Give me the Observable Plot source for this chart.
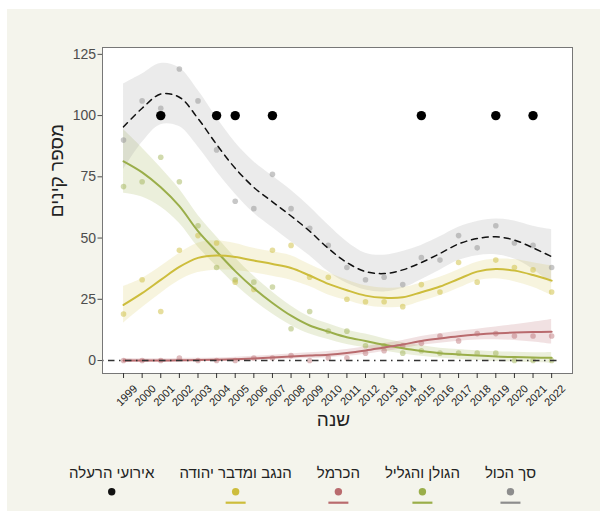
<!DOCTYPE html>
<html><head><meta charset="utf-8">
<script src="https://cdn.jsdelivr.net/npm/d3@7"></script>
<script src="https://cdn.jsdelivr.net/npm/@observablehq/plot@0.6"></script>
<style>
body{margin:0;background:#fff;}
#wrap{position:relative;width:607px;height:511px;overflow:hidden;}
#bg{position:absolute;left:7px;top:9px;width:593px;height:502px;background:#f4f4ec;}
#chart{position:absolute;left:0;top:0;}
#legend{position:absolute;left:0;top:0;}
</style></head><body>
<div id="wrap"><div id="bg"></div><div id="chart"></div><svg id="legend" width="607" height="511"></svg></div>
<script>
// ---- data ----
const years = [1999,2000,2001,2002,2003,2004,2005,2006,2007,2008,2009,2010,2011,2012,2013,2014,2015,2016,2017,2018,2019,2020,2021,2022];
const total  = [90,106,103,119,106,86,65,62,76,62,54,47,38,33,34,31,42,41,51,46,55,48,47,38];
const golan  = [71,73,83,73,55,38,33,32,30,13,20,12,12,6,6,3,4,3,3,3,3,0,0,0];
const carmel = [0,0,0,1,0,0,0,1,1,2,0,1,1,3,4,6,7,10,8,11,11,10,10,10];
const negev  = [19,33,20,45,51,48,32,29,45,47,34,34,25,24,24,22,31,28,40,32,41,38,37,28];
// smoothed fits and band half-widths
const totalFit  = [95.4,103,108.8,107.5,98.8,88.2,78.5,70.7,64.8,59,52.8,45.8,40,36.3,35.5,37,40,43.7,47.6,49.8,50.5,49.2,46,42.4];
const totalHw   = [17.5,14,12.5,12,11.5,11,10.5,10.5,10.5,10.5,10,9.5,8.5,7.5,7.5,7.5,7,6.8,6.8,7,7.3,7.8,8.8,11];
const golanFit  = [81.3,76.8,70.7,63,52.8,44.5,36.5,29.5,23.5,18.3,14.3,11.8,9.5,8.0,6.4,5.0,3.9,3.0,2.5,2.0,1.6,1.4,1.2,1.1];
const golanHw   = [13,10,8,7,6.5,6,5.5,5,4.5,4,3.5,3.2,3,2.8,2.5,2.3,2.2,2,2,2,2,2,2,2.2];
const carmelFit = [0,0,0,0.1,0.2,0.3,0.5,0.8,1.2,1.6,2.0,2.4,3.1,4.1,5.3,6.5,8.0,9.0,9.9,10.6,11.1,11.4,11.6,11.7];
const carmelHw  = [0.8,0.7,0.7,0.7,0.7,0.7,0.8,0.9,1,1.1,1.2,1.3,1.4,1.5,1.6,1.7,1.8,1.9,2,2.2,2.6,3.2,4,5];
const negevFit  = [22.7,27.5,32.9,38.2,41.9,42.9,42.3,40.8,39.4,37.8,34.7,31.3,28.7,26.5,25.6,25.8,27.9,30.2,33.3,36.3,37.4,36.7,34.9,32.6];
const negevHw   = [7.5,6,5.5,5.5,6,6,5.5,5,5,5,4.5,4.5,4.2,4,4,4,3.8,3.8,3.8,3.8,4,4.5,5,6];
const eventYears = [2001,2004,2005,2007,2015,2019,2021];
const eventLevel = 100;
const yTicks = [0,25,50,75,100,125];
const seriesNames = ["סך הכול","הגולן והגליל","הכרמל","הנגב ומדבר יהודה"];
const eventName = "אירועי הרעלה";
const xTitle = "שנה";
const yTitle = "מספר קינים";

// ---- styles ----
const FONT = "'Liberation Sans', Arial, sans-serif";
const col = {total:"#8d8d8d", golan:"#9aae4a", carmel:"#b96b6e", negev:"#cdbd3c"};

const rows = (vals, fit, hw) => years.map((y,i) => ({year:y, v:vals[i], fit:fit[i], lo:fit[i]-hw[i], hi:fit[i]+hw[i]}));
const T = rows(total,totalFit,totalHw);
const G = rows(golan,golanFit,golanHw);
const C = rows(carmel,carmelFit,carmelHw);
const N = rows(negev,negevFit,negevHw);
const curve = "catmull-rom";

const band = (data, fill, op) => Plot.areaY(data, {x:"year", y1:"lo", y2:"hi", fill, fillOpacity:op, curve});
const pts = (data, fill, op) => Plot.dot(data, {x:"year", y:"v", r:2.8, fill, fillOpacity:op, stroke:null});
const fitLine = (data, stroke, extra={}) => Plot.line(data, {x:"year", y:"fit", stroke, strokeWidth:2, curve, ...extra});

const plot = Plot.plot({
  width:607, height:511,
  marginLeft:102, marginRight:35, marginTop:47, marginBottom:138,
  x:{domain:[1997.87, 2023.12]},
  y:{domain:[-5.3, 127.8]},
  style:{background:"transparent", fontFamily:FONT, color:"#333"},
  marks:[
    Plot.frame({fill:"white"}),
    band(G, col.golan, 0.2),
    band(T, "#999", 0.2),
    band(C, col.carmel, 0.2),
    band(N, col.negev, 0.17),
    pts(T, "#999", 0.55),
    pts(G, col.golan, 0.45),
    pts(C, col.carmel, 0.45),
    pts(N, col.negev, 0.5),
    fitLine(G, col.golan),
    fitLine(C, col.carmel),
    fitLine(N, col.negev),
    fitLine(T, "#111", {strokeWidth:1.5, strokeDasharray:"6,5"}),
    Plot.ruleY([0], {x1:() => years[0]-1.13, x2:() => years[years.length-1]+0.35, stroke:"#333", strokeWidth:1.6, strokeDasharray:"1.5,4.5,6.5,4.5"}),
    Plot.dot(eventYears, {x:d=>d, y:()=>eventLevel, r:4.7, fill:"#000"}),
    Plot.frame({stroke:"#777"}),
    Plot.axisY({ticks:yTicks, tickSize:4.5, tickPadding:2, fontSize:14, label:null, color:"#4d4d4d"}),
    Plot.axisX({ticks:years, tickSize:5, tickFormat:()=>"", label:null}),
    Plot.text(years, {x:d=>d, text:d=>String(d), frameAnchor:"bottom", dx:12, dy:13.4, rotate:-45, textAnchor:"end", lineAnchor:"middle", fontSize:11, fill:"#222"}),
    Plot.text([xTitle], {frameAnchor:"bottom", dx:-4, dy:52.5, fontSize:19, fill:"#222"}),
    Plot.text([yTitle], {frameAnchor:"left", dx:-45.6, dy:6.7, rotate:-90, fontSize:19, fill:"#222"})
  ]
});
document.getElementById("chart").appendChild(plot);

// ---- legend ----
const svg = d3.select("#legend").style("font-family", FONT);
const items = seriesNames.map((n,i) => ({label:n, color:[col.total,col.golan,col.carmel,col.negev][i], line:true}))
  .concat([{label:eventName, color:"#111", line:false}]);
const gap = 25, center = 302.5, textY = 478, dotY = 491.7, lineY = 502.7;
const texts = items.map(it => svg.append("text").attr("y", textY).attr("font-size", 15).attr("fill", "#222")
  .attr("text-anchor","middle").attr("direction","rtl").text(it.label));
const widths = texts.map(t => t.node().getComputedTextLength());
const totalW = d3.sum(widths) + gap*(items.length-1);
let right = center + totalW/2;
items.forEach((it,i) => {
  const cx = right - widths[i]/2;
  texts[i].attr("x", cx);
  svg.append("circle").attr("cx", cx).attr("cy", dotY).attr("r", 3.7).attr("fill", it.color);
  if (it.line) svg.append("line").attr("x1", cx-10).attr("x2", cx+10).attr("y1", lineY).attr("y2", lineY)
    .attr("stroke", it.color).attr("stroke-width", 2.2);
  right -= widths[i] + gap;
});
</script>
</body></html>
